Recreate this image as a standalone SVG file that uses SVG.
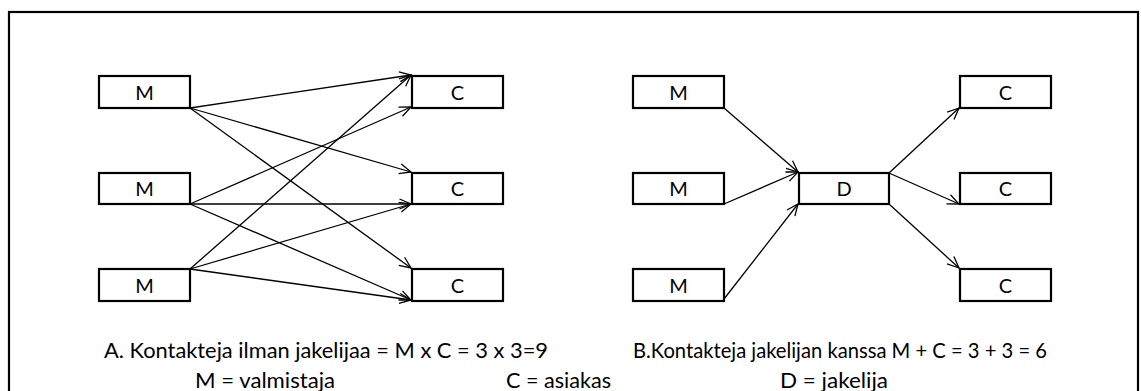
<svg xmlns="http://www.w3.org/2000/svg" width="1141" height="391" viewBox="0 0 1141 391">
  <style>
    .box { fill: #fff; stroke: #000; stroke-width: 2.2; }
    .lbl { font-family: Lato, "Open Sans", sans-serif; font-size: 20px; fill: #000; text-anchor: middle; }
    .cap { font-family: Lato, "Open Sans", sans-serif; font-size: 22px; fill: #000; }
    .link { fill: none; stroke: #000; stroke-width: 1.3; marker-end: url(#arr); }
  </style>
  <defs>
    <marker id="arr" markerUnits="userSpaceOnUse" markerWidth="14" markerHeight="12" refX="12.5" refY="6" orient="auto">
      <path d="M1,1 L12.5,6 L1,11" fill="none" stroke="#000" stroke-width="1.3"/>
    </marker>
  </defs>

  <rect width="1141" height="391" fill="#fff"/>
  <!-- outer frame, open at the bottom edge -->
  <rect x="9" y="12" width="1129" height="400" fill="none" stroke="#000" stroke-width="2.2"/>

  <!-- A: direct contacts -->
  <g id="a-m1"><rect class="box" x="99" y="76" width="91" height="32"/><text class="lbl" x="144.5" y="99.5">M</text></g>
  <g id="a-m2"><rect class="box" x="99" y="173" width="91" height="31"/><text class="lbl" x="144.5" y="196">M</text></g>
  <g id="a-m3"><rect class="box" x="99" y="269" width="91" height="32"/><text class="lbl" x="144.5" y="292.5">M</text></g>
  <g id="a-c1"><rect class="box" x="412" y="76" width="91" height="32"/><text class="lbl" x="457.5" y="99.5">C</text></g>
  <g id="a-c2"><rect class="box" x="412" y="173" width="91" height="31"/><text class="lbl" x="457.5" y="196">C</text></g>
  <g id="a-c3"><rect class="box" x="412" y="269" width="91" height="32"/><text class="lbl" x="457.5" y="292.5">C</text></g>

  <!-- B: contacts through a distributor -->
  <g id="b-m1"><rect class="box" x="633" y="76" width="91" height="32"/><text class="lbl" x="678.5" y="99.5">M</text></g>
  <g id="b-m2"><rect class="box" x="633" y="173" width="91" height="31"/><text class="lbl" x="678.5" y="196">M</text></g>
  <g id="b-m3"><rect class="box" x="633" y="269" width="91" height="32"/><text class="lbl" x="678.5" y="292.5">M</text></g>
  <g id="b-d"><rect class="box" x="799" y="173" width="90" height="31"/><text class="lbl" x="844" y="196">D</text></g>
  <g id="b-c1"><rect class="box" x="960" y="76" width="91" height="32"/><text class="lbl" x="1005.5" y="99.5">C</text></g>
  <g id="b-c2"><rect class="box" x="960" y="173" width="91" height="31"/><text class="lbl" x="1005.5" y="196">C</text></g>
  <g id="b-c3"><rect class="box" x="960" y="269" width="91" height="32"/><text class="lbl" x="1005.5" y="292.5">C</text></g>

  <g id="connectors">
    <!-- A: every M to every C -->
    <line class="link" x1="190" y1="108" x2="411" y2="75"/>
    <line class="link" x1="190" y1="108" x2="411" y2="172"/>
    <line class="link" x1="190" y1="108" x2="411" y2="268"/>
    <line class="link" x1="190" y1="204" x2="411" y2="107"/>
    <line class="link" x1="190" y1="204" x2="411" y2="204"/>
    <line class="link" x1="190" y1="204" x2="411" y2="300"/>
    <line class="link" x1="190" y1="269" x2="411" y2="75"/>
    <line class="link" x1="190" y1="269" x2="411" y2="204"/>
    <line class="link" x1="190" y1="269" x2="411" y2="300"/>
    <!-- B: M to D, D to C -->
    <line class="link" x1="724" y1="108" x2="798" y2="172"/>
    <line class="link" x1="724" y1="204" x2="798" y2="172"/>
    <line class="link" x1="724" y1="299" x2="798" y2="204"/>
    <line class="link" x1="889" y1="173" x2="959" y2="108"/>
    <line class="link" x1="889" y1="173" x2="959" y2="204"/>
    <line class="link" x1="889" y1="204" x2="959" y2="268"/>
  </g>

  <g id="captions">
    <text class="cap" x="104" y="358" textLength="444" lengthAdjust="spacingAndGlyphs">A. Kontakteja ilman jakelijaa = M x C = 3 x 3=9</text>
    <text class="cap" x="633" y="358" textLength="414" lengthAdjust="spacingAndGlyphs">B.Kontakteja jakelijan kanssa M + C = 3 + 3 = 6</text>
    <text class="cap" x="195" y="388" textLength="140" lengthAdjust="spacingAndGlyphs">M = valmistaja</text>
    <text class="cap" x="506" y="388" textLength="105" lengthAdjust="spacingAndGlyphs">C = asiakas</text>
    <text class="cap" x="780" y="388" textLength="108" lengthAdjust="spacingAndGlyphs">D = jakelija</text>
  </g>
</svg>
